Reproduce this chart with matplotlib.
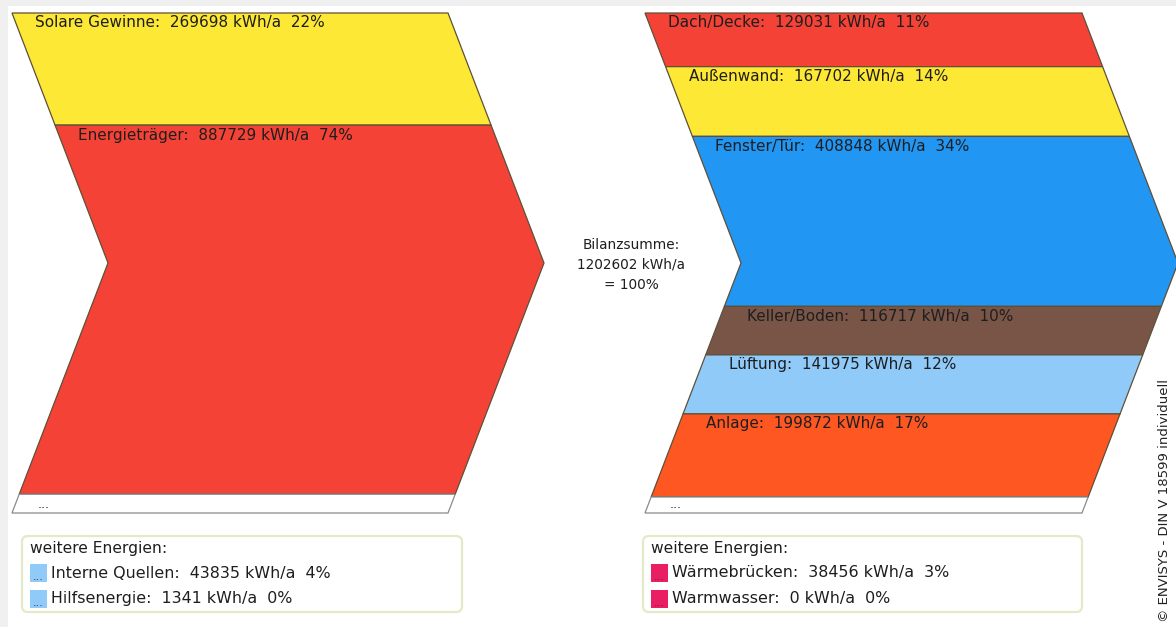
import matplotlib.pyplot as plt
from matplotlib.patches import Polygon, FancyBboxPatch, Rectangle

# Energiebilanz, Werte in kWh/a
total = 1202602

gain_labels = ["Solare Gewinne", "Energieträger"]
gain_values = [269698, 887729]
gain_colors = ["#FDE836", "#F44336"]
gain_more_labels = ["Interne Quellen", "Hilfsenergie"]
gain_more_values = [43835, 1341]

loss_labels = ["Dach/Decke", "Außenwand", "Fenster/Tür", "Keller/Boden", "Lüftung", "Anlage"]
loss_values = [129031, 167702, 408848, 116717, 141975, 199872]
loss_colors = ["#F44336", "#FDE836", "#2196F3", "#795548", "#90CAF9", "#FF5722"]
loss_more_labels = ["Wärmebrücken", "Warmwasser"]
loss_more_values = [38456, 0]

W, H = 1176, 627
TOP, BOT = 13, 513
MID = (TOP + BOT) / 2
DEPTH = 96
TXT = "#1e1e1e"


def edge_x(x0, y):
    return x0 + DEPTH * (1 - abs(y - MID) / (MID - TOP))


def band(ax, x0, width, y0, y1, color, ec):
    ys = [y0] + ([MID] if y0 < MID < y1 else []) + [y1]
    left = [(edge_x(x0, y), y) for y in ys]
    right = [(edge_x(x0, y) + width, y) for y in reversed(ys)]
    ax.add_patch(Polygon(left + right, closed=True, fc=color, ec=ec, lw=0.9))


def fmt(label, v):
    return f"{label}:  {v} kWh/a  {round(100 * v / total)}%"


def chevron(ax, x0, width, labels, values, colors):
    scale = (BOT - TOP) / total
    y = TOP
    for lab, v, c in zip(labels, values, colors):
        y1 = y + v * scale
        band(ax, x0, width, y, y1, c, "#5e5038")
        ax.text(edge_x(x0, y) + 23, y + 10, fmt(lab, v), fontsize=11,
                va="center", color=TXT)
        y = y1
    # rest ("weitere Energien")
    band(ax, x0, width, y, BOT, "white", "#8a8a8a")
    ax.text(edge_x(x0, y) + 18, BOT - 2, "...", fontsize=9, va="bottom", color=TXT)


def more_box(ax, x0, width, labels, values, color):
    ax.add_patch(FancyBboxPatch((x0, 536), width, 76,
                                boxstyle="round,pad=0,rounding_size=6",
                                fc="white", ec="#e4e9c8", lw=1.6))
    ax.text(x0 + 8, 549, "weitere Energien:", fontsize=11.2, va="center", color=TXT)
    for i, (lab, v) in enumerate(zip(labels, values)):
        yc = 573 + i * 26
        ax.add_patch(Rectangle((x0 + 8, yc - 9), 17, 18, fc=color, ec="none"))
        ax.text(x0 + 16.5, yc + 9, "...", fontsize=8, ha="center", va="bottom", color="#333333")
        ax.text(x0 + 29, yc, fmt(lab, v), fontsize=11.4, va="center", color=TXT)


fig = plt.figure(figsize=(11.76, 6.27), dpi=100)
ax = fig.add_axes([0, 0, 1, 1])
ax.set_xlim(0, W)
ax.set_ylim(H, 0)
ax.axis("off")

ax.add_patch(Rectangle((0, 0), W, 6, fc="#f0f0f0", ec="none"))
ax.add_patch(Rectangle((0, 0), 8, H, fc="#f0f0f0", ec="none"))

chevron(ax, 12, 436, gain_labels, gain_values, gain_colors)
chevron(ax, 645, 437, loss_labels, loss_values, loss_colors)

more_box(ax, 22, 440, gain_more_labels, gain_more_values, "#90CAF9")
more_box(ax, 643, 439, loss_more_labels, loss_more_values, "#E91E63")

ax.text(631, 265, f"Bilanzsumme:\n{total} kWh/a\n= 100%", fontsize=9.8,
        ha="center", va="center", linespacing=1.55, color=TXT)

ax.text(1165, 622, "© ENVISYS - DIN V 18599 individuell", fontsize=9.5,
        rotation=90, ha="center", va="bottom", color="#222222")

fig.savefig("out.png", dpi=100)
